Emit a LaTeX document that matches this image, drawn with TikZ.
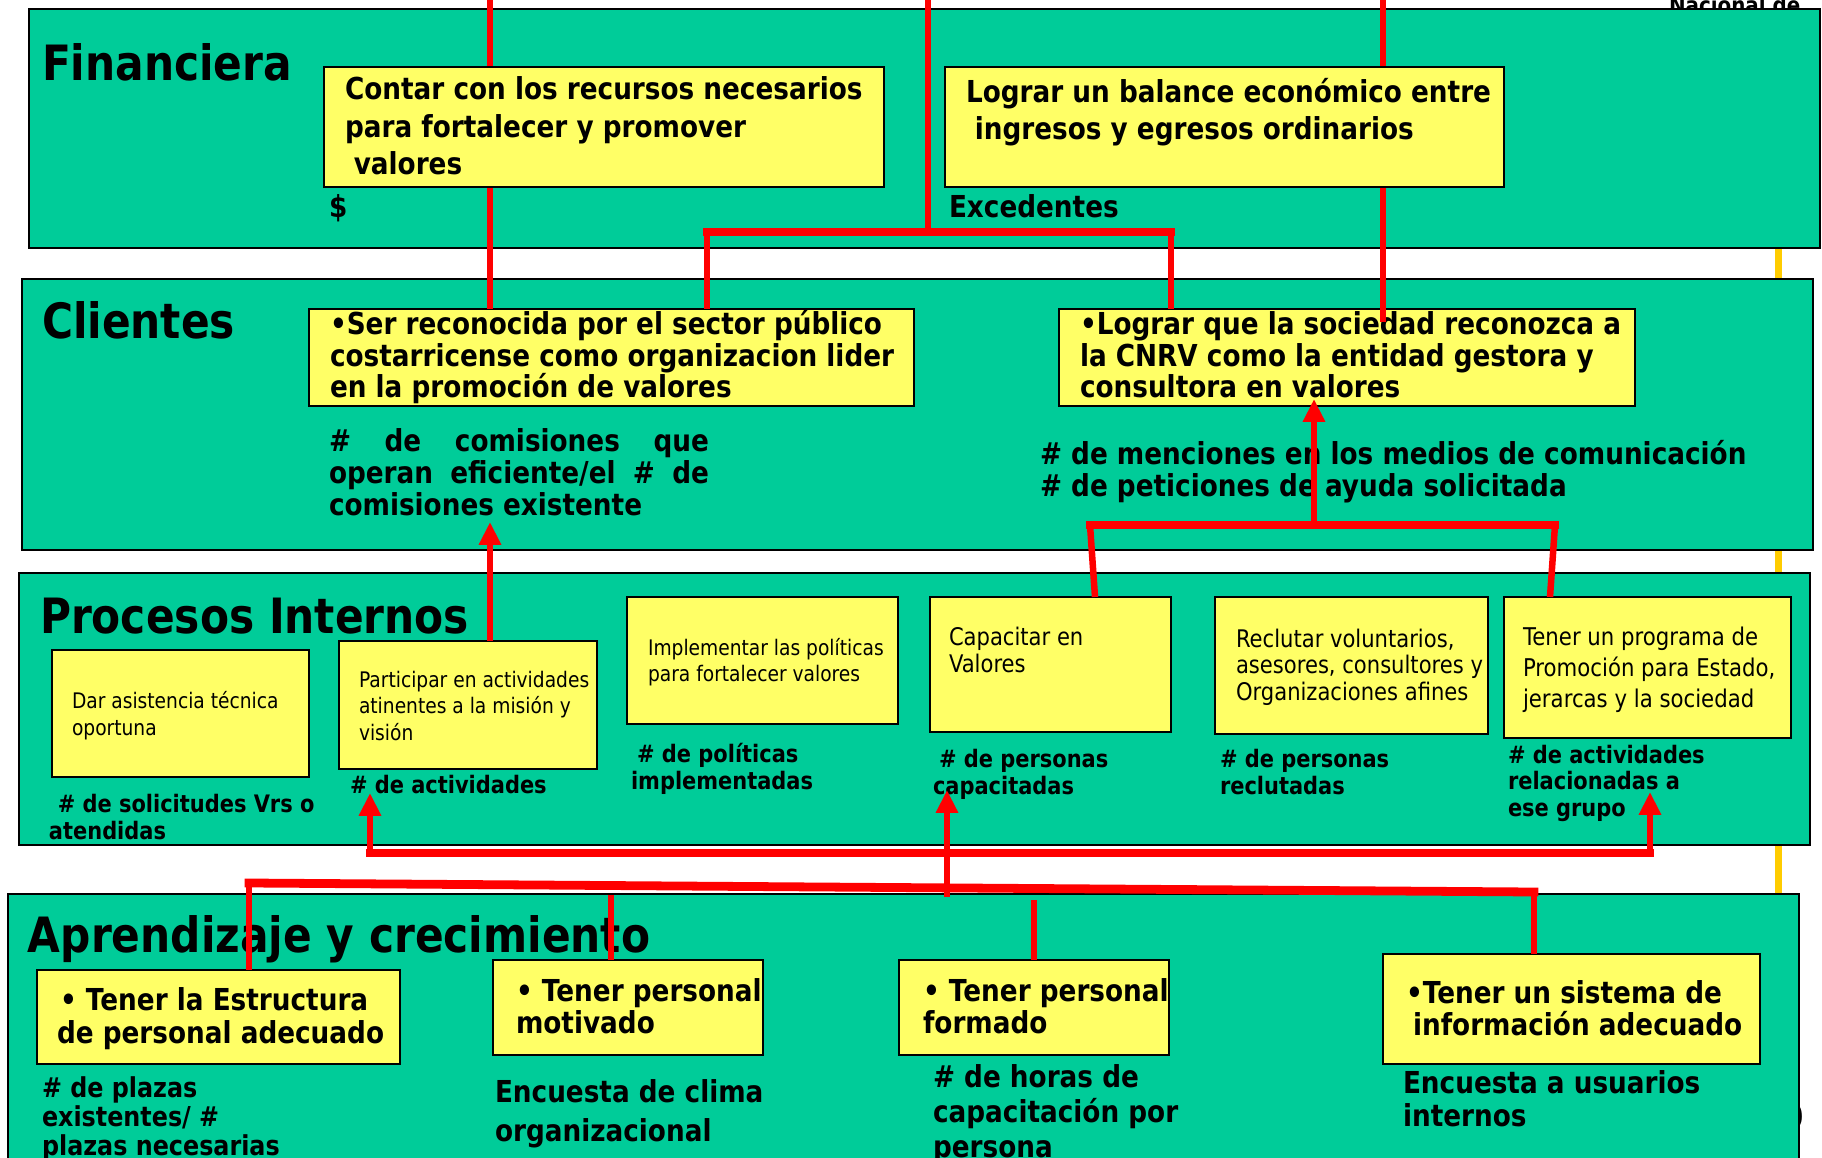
\documentclass[tikz,border=0pt]{standalone}
\usepackage{fontspec}
\setmainfont[FakeStretch=0.87]{DejaVu Sans}
\usetikzlibrary{arrows.meta,fit,positioning}
\definecolor{bandgreen}{RGB}{0,204,153}
\definecolor{boxyellow}{RGB}{255,255,102}
\definecolor{lineyellow}{RGB}{255,204,0}

\begin{document}
\begin{tikzpicture}[x=0.02cm, y=-0.02cm, every node/.style={inner sep=0pt, outer sep=0pt}]
        \tikzset{
          band/.style={draw=black, line width=1.1pt, fill=bandgreen},
          ybox/.style={draw=black, line width=1.1pt, fill=boxyellow},
          ttl/.style={anchor=base west, font=\bfseries\fontsize{27.7}{30}\selectfont},
          big/.style={anchor=base west, align=left, font=\bfseries\fontsize{17.2}{#1}\selectfont},
          med/.style={anchor=base west, align=left, font=\bfseries\fontsize{13.7}{15}\selectfont},
          ptxt/.style 2 args={anchor=base west, align=left, font=\fontsize{#1}{#2}\selectfont},
          redline/.style={draw=red, line width=3.7pt},
          redbar/.style={draw=red, line width=5pt, line cap=rect},
          redarrow/.style={redline, -{Triangle[width=12pt,length=13pt]}},
        }
        \useasboundingbox (0,0) rectangle (1822,1158);
        \clip (0,0) rectangle (1822,1158);
        % behind the bands
        \draw[lineyellow, line width=4pt] (1778,150) -- (1778,1000);
        \node[anchor=base west, font=\bfseries\fontsize{13}{15}\selectfont] (nac) at (1669,14) {Nacional de};
        \node[anchor=base west, font=\fontsize{19.5}{22}\selectfont] (pg) at (1785,1129) {9};
        % bands
        \node[band, fit={(29,9) (1820,248)}] (fin) {};
        \node[band, fit={(22,279) (1813,550)}] (cli) {};
        \node[band, fit={(19,573) (1810,845)}] (pro) {};
        \node[band, fit={(8,894) (1799,1175)}] (apr) {};
        \node[ttl] (finT) at (42,81) {Financiera};
        \node[ttl] (cliT) at (42,339) {Clientes};
        \node[ttl] (proT) at (40,633) {Procesos Internos};
        \node[ttl] (aprT) at (28,952) {Aprendizaje y crecimiento};
        % clientes (texts sit on the baseline of their last line)
        \node[ybox, fit={(309,309) (914,406)}] (c1) {};
        \node[big=18.2] (c1t) at (330,398) {•Ser reconocida por el sector público\\costarricense como organizacion lider\\en la promoción de valores};
        \node[ybox, fit={(1059,309) (1635,406)}] (c2) {};
        \node[big=18.2] (c2t) at (1080,398) {•Lograr que la sociedad reconozca a\\la CNRV como la entidad gestora y\\consultora en valores};
        \node[big=18.2, text width=7.6cm, align=justify] (c1m) at (329,452) {\# de comisiones que\linebreak operan eficiente/el \# de\linebreak comisiones existente};
        \node[big=18.5] (c2m) at (1040,497) {\# de menciones en los medios de comunicación\\\# de peticiones de ayuda solicitada};
        % procesos internos
        \node[ybox, fit={(52,650) (309,777)}] (p1) {};
        \node[ptxt={12.2}{15.2}] (p1t) at (72,735) {Dar asistencia técnica\\oportuna};
        \node[ybox, fit={(339,641) (597,769)}] (p2) {};
        \node[ptxt={12.2}{15}] (p2t) at (359,740) {Participar en actividades\\atinentes a la misión y\\visión};
        \node[ybox, fit={(627,597) (898,724)}] (p3) {};
        \node[ptxt={12.2}{14.5}] (p3t) at (648,681) {Implementar las políticas\\para fortalecer valores};
        \node[ybox, fit={(930,597) (1171,732)}] (p4) {};
        \node[ptxt={13.8}{14.8}] (p4t) at (949,672) {Capacitar en\\Valores};
        \node[ybox, fit={(1215,597) (1488,734)}] (p5) {};
        \node[ptxt={13.8}{15}] (p5t) at (1236,700) {Reclutar voluntarios,\\asesores, consultores y\\Organizaciones afines};
        \node[ybox, fit={(1504,597) (1791,738)}] (p6) {};
        \node[ptxt={13.9}{17.6}] (p6t) at (1523,707) {Tener un programa de\\Promoción para Estado,\\jerarcas y la sociedad};
        \node[med] (p1m) at (49,839) {\hspace*{5pt}\# de solicitudes Vrs o\\atendidas};
        \node[med] (p2m) at (350,793) {\# de actividades};
        \node[med] (p3m) at (631,789) {\hspace*{3.5pt}\# de políticas\\implementadas};
        \node[med] (p4m) at (933,794) {\hspace*{3.5pt}\# de personas\\capacitadas};
        \node[med] (p5m) at (1220,794) {\# de personas\\reclutadas};
        \node[med] (p6m) at (1508,816) {\# de actividades\\relacionadas a\\ese grupo};
        % aprendizaje y crecimiento
        \node[ybox, fit={(37,970) (400,1064)}] (a1) {};
        \node[big=18.5] (a1t) at (60,1043) {• Tener la Estructura\\\hspace*{-1.7pt}de personal adecuado};
        \node[ybox, fit={(493,960) (763,1055)}] (a2) {};
        \node[big=17.9] (a2t) at (516,1033) {• Tener personal\\motivado};
        \node[ybox, fit={(899,960) (1169,1055)}] (a3) {};
        \node[big=17.9] (a3t) at (923,1033) {• Tener personal\\formado};
        \node[ybox, fit={(1383,954) (1760,1064)}] (a4) {};
        \node[big=17.9] (a4t) at (1406,1035) {•Tener un sistema de\\\hspace*{4pt}información adecuado};
        \node[anchor=base west, align=left, font=\bfseries\fontsize{15.6}{16.5}\selectfont] (a1m) at (42,1155) {\# de plazas\\existentes/ \#\\plazas necesarias};
        \node[big=21.8] (a2m) at (495,1141) {Encuesta de clima\\organizacional};
        \node[big=19.8] (a3m) at (933,1157) {\# de horas de\\capacitación por\\persona};
        \node[big=18.5] (a4m) at (1403,1126) {Encuesta a usuarios\\internos};
        % red links
        \coordinate (t1) at (490,-10);
        \coordinate (t2) at (928,-10);
        \coordinate (t3) at (1383,-10);
        \coordinate (jl) at (707,232);
        \coordinate (jr) at (1171,232);
        \coordinate (e3) at (1383,322);
        \draw[redline] (t1) -- (t1 |- c1.north);
        \draw[redline] (t2) -- (t2 |- jl);
        \draw[redline] (c1.north -| jl) -- (jl);
        \draw[redline] (c2.north -| jr) -- (jr);
        \draw[redbar] (jl) -- (jr);
        \draw[redline] (t3) -- (e3);
        % 
        \coordinate (kl) at (1090,525);
        \coordinate (kr) at (1555,525);
        \coordinate (km) at (1314,525);
        \coordinate (c2tip) at (1314,399);
        \draw[redarrow] (km) -- (c2tip);
        \draw[redline] ([shift={(165,0)}]p4.north west) -- (kl);
        \draw[redline] ([shift={(46,0)}]p6.north west) -- (kr);
        \draw[redbar] (kl) -- (kr);
        \coordinate (cm1tip) at (490,522);
        \draw[redarrow] (p2.north -| t1) -- (cm1tip);
        % 
        \coordinate (ul) at (370,853);
        \coordinate (ur) at (1650,853);
        \coordinate (ptipl) at (370,793);
        \coordinate (ptipr) at (1650,792);
        \draw[redarrow] (ul) -- (ptipl);
        \draw[redarrow] (ur) -- (ptipr);
        \draw[redbar] (ul) -- (ur);
        \coordinate (ll) at (249,883);
        \coordinate (lr) at (1534,892);
        \draw[redline] (ll) -- (ll |- a1.north);
        \draw[redbar] (ll) -- (lr);
        \draw[redline] ([shift={(118,0)}]a2.north west) -- ++(0,-65);
        \draw[redline] ([shift={(135,0)}]a3.north west) -- ++(0,-60);
        \draw[redline] ([shift={(151,0)}]a4.north west) -- ++(0,-62);
        \coordinate (mb) at (947,897);
        \coordinate (ptipm) at (947,790);
        \draw[redarrow] (mb) -- (ptipm);
        % financiera, over the links
        \node[ybox, fit={(324,67) (884,187)}] (f1) {};
        \node[big=21.6] (f1t) at (345,175) {Contar con los recursos necesarios\\para fortalecer y promover\\\hspace*{5pt}valores};
        \node[ybox, fit={(945,67) (1504,187)}] (f2) {};
        \node[big=21.1] (f2t) at (966,140) {Lograr un balance económico entre\\\hspace*{5pt}ingresos y egresos ordinarios};
        \node[big=20] (f1m) at (329,218) {\$};
        \node[big=20] (f2m) at (949,218) {Excedentes};
    \end{tikzpicture}
\end{document}
